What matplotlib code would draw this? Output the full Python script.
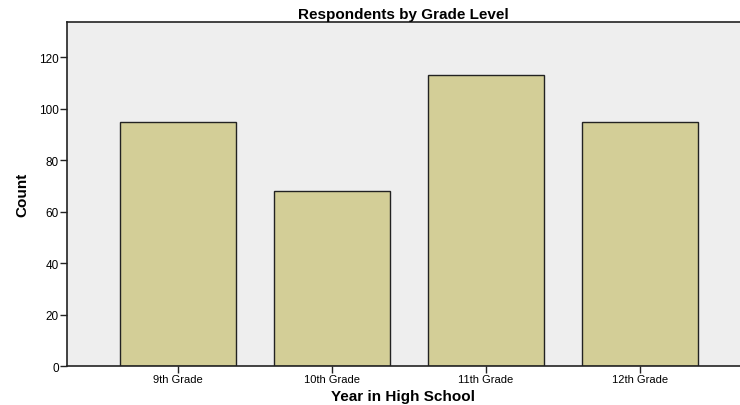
import matplotlib
matplotlib.use("Agg")
import matplotlib.pyplot as plt

grades = ["9th Grade", "10th Grade", "11th Grade", "12th Grade"]
counts = [95, 68, 113, 95]
yticks = [0, 20, 40, 60, 80, 100, 120]

plt.rcParams['font.family'] = ['Liberation Sans', 'DejaVu Sans']

fig = plt.figure(figsize=(7.4, 4.06), dpi=100)
ax = fig.add_axes([0.0905, 0.096, 0.9095, 0.8473])
ax.set_facecolor('#EEEEEE')

x = list(range(len(grades)))
ax.bar(x, counts, width=0.753, color='#D3CE97', edgecolor='#222222', linewidth=1.0)

ax.set_xlim(-0.72, 3.65)
ax.set_ylim(0, 133.7)
ax.set_xticks(x)
ax.set_xticklabels(grades, fontsize=8)
ax.set_yticks(yticks)
ax.set_yticklabels([str(v) for v in yticks], fontsize=8.5)
ax.tick_params(axis='both', length=5, width=1, color='#222222', pad=1)

for s in ['left', 'bottom', 'top']:
    ax.spines[s].set_linewidth(1.2)
    ax.spines[s].set_color('#222222')
ax.spines['right'].set_visible(False)

ax.set_title('Respondents by Grade Level', fontsize=11, fontweight='bold', pad=3)
ax.set_xlabel('Year in High School', fontsize=11, fontweight='bold', labelpad=3)
ax.set_ylabel('Count', fontsize=11, fontweight='bold', labelpad=7)

fig.savefig('out.png', dpi=100)
